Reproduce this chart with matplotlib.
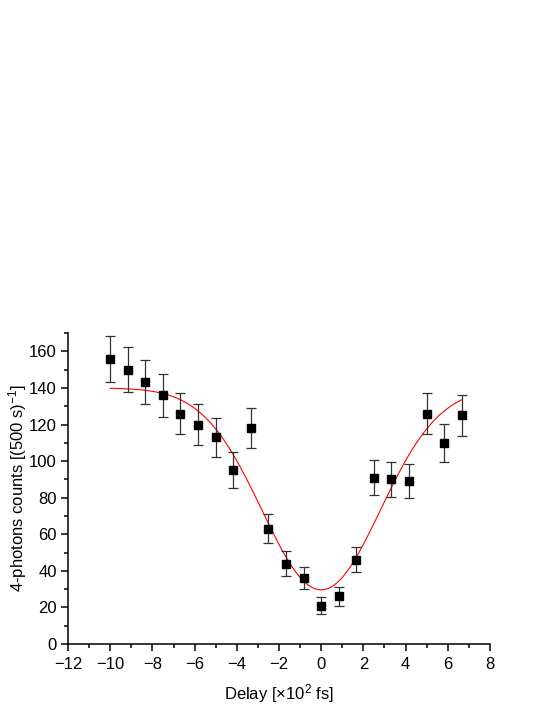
import numpy as np
import matplotlib
matplotlib.use('Agg')
from matplotlib import pyplot as plt
from matplotlib.ticker import MultipleLocator

# measured points (delay in units of 100 fs)
delay = [-10.0, -9.17, -8.33, -7.5, -6.67, -5.83, -5.0, -4.17, -3.33, -2.5, -1.67,
         -0.83, 0.0, 0.83, 1.67, 2.5, 3.33, 4.17, 5.0, 5.83, 6.67]
counts = [156, 150, 143, 136, 126, 120, 113, 95, 118, 63, 44,
          36, 21, 26, 46, 91, 90, 89, 126, 110, 125]
errors = [12.5, 12.2, 12.0, 11.7, 11.2, 11.0, 10.6, 9.7, 10.9, 7.9, 6.6,
          6.0, 4.6, 5.1, 6.8, 9.5, 9.5, 9.4, 11.2, 10.5, 11.2]

# gaussian dip fit
fit_offset = 140.0
fit_depth = 110.4
fit_center = 0.0
fit_sigma = 2.8

plt.rcParams['font.family'] = ['Liberation Sans', 'DejaVu Sans']
plt.rcParams['mathtext.fontset'] = 'custom'
plt.rcParams['mathtext.rm'] = 'Liberation Sans'
plt.rcParams['mathtext.it'] = 'Liberation Sans:italic'
plt.rcParams['mathtext.bf'] = 'Liberation Sans:bold'

fig = plt.figure(figsize=(5.45, 7.05), dpi=100)
ax = fig.add_axes([0.1248, 0.0865, 0.899 - 0.1248, 0.4411])

xfit = np.linspace(delay[0], delay[-1], 400)
yfit = fit_offset - fit_depth * np.exp(-(xfit - fit_center)**2 / (2 * fit_sigma**2))
ax.plot(xfit, yfit, color='red', lw=0.8)

ax.errorbar(delay, counts, yerr=errors, fmt='s', color='black', ms=5.5,
            ecolor='#333333', elinewidth=0.9, capsize=3.5, capthick=0.9)

ax.set_xlim(-12, 8)
ax.set_ylim(0, 170)
ax.xaxis.set_major_locator(MultipleLocator(2))
ax.xaxis.set_minor_locator(MultipleLocator(1))
ax.yaxis.set_major_locator(MultipleLocator(20))
ax.yaxis.set_minor_locator(MultipleLocator(10))

for s in ['top', 'right']:
    ax.spines[s].set_visible(False)
for s in ['left', 'bottom']:
    ax.spines[s].set_linewidth(1.1)

ax.tick_params(axis='both', which='major', direction='out', length=5, width=1.1,
               labelsize=12, pad=3)
ax.tick_params(axis='x', which='major', pad=4.5)
ax.tick_params(axis='both', which='minor', direction='out', length=3, width=1.1)

ax.set_xlabel('Delay [\u00d710$^{\\mathregular{2}}$ fs]', fontsize=12, labelpad=7)
ax.set_ylabel('4-photons counts [(500 s)$^{\\mathregular{-1}}$]', fontsize=12, labelpad=0)

fig.savefig('out.png', dpi=100)
